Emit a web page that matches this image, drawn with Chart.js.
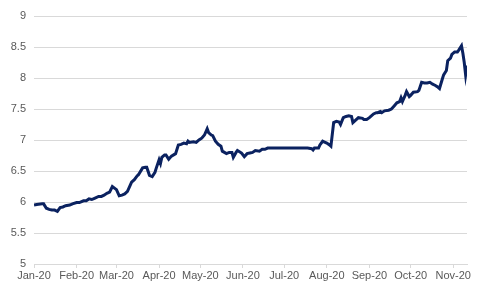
<!DOCTYPE html>
<html>
<head>
<meta charset="utf-8">
<script src="https://cdn.jsdelivr.net/npm/chart.js@4/dist/chart.umd.min.js"></script>
<style>
  html, body { margin: 0; padding: 0; background: #fff; }
  #wrap { width: 481px; height: 289px; }
</style>
</head>
<body>
<div id="wrap"><canvas id="canvas"></canvas></div>
<script>
// days counted from 1 Jan 2020
var dayNums = [0,2,6,7,9,11,13,15,17,19,21,23,26,28,31,33,36,38,40,42,44,47,49,51,53,55,57,60,62,64,66,68,71,73,75,76,79,81,82,84,86,88,89,91,92,93,95,96,98,100,103,105,107,109,111,112,113,116,118,120,122,124,126,127,129,130,132,134,136,137,140,142,144,145,147,148,151,153,155,157,159,161,164,166,168,170,173,176,179,182,185,188,191,194,196,199,202,203,204,207,208,210,211,213,215,216,218,220,222,223,225,227,229,231,232,234,236,239,240,242,244,247,249,250,252,253,255,258,260,262,264,266,267,268,270,271,273,274,276,279,280,282,284,286,288,290,292,294,295,297,298,300,301,303,304,306,308,309,311,312,313,314,315];
var rates = [5.95,5.96,5.97,5.97,5.9,5.88,5.87,5.87,5.85,5.91,5.92,5.94,5.95,5.97,5.99,5.99,6.02,6.02,6.05,6.04,6.06,6.09,6.09,6.11,6.14,6.16,6.25,6.2,6.1,6.11,6.13,6.17,6.32,6.36,6.42,6.44,6.55,6.56,6.56,6.43,6.41,6.48,6.55,6.68,6.62,6.72,6.76,6.76,6.69,6.74,6.78,6.92,6.93,6.95,6.94,6.98,6.96,6.97,6.96,7.0,7.03,7.08,7.18,7.12,7.08,7.07,6.98,6.93,6.9,6.82,6.78,6.8,6.8,6.72,6.8,6.83,6.79,6.73,6.78,6.79,6.8,6.83,6.82,6.85,6.85,6.87,6.87,6.87,6.87,6.87,6.87,6.87,6.87,6.87,6.87,6.87,6.86,6.84,6.87,6.87,6.92,6.98,6.97,6.95,6.92,6.9,7.28,7.3,7.29,7.25,7.36,7.38,7.39,7.38,7.28,7.32,7.36,7.35,7.33,7.33,7.36,7.42,7.44,7.44,7.46,7.44,7.47,7.48,7.5,7.55,7.6,7.62,7.68,7.62,7.72,7.78,7.7,7.72,7.77,7.78,7.8,7.93,7.92,7.92,7.93,7.9,7.88,7.85,7.83,7.98,8.05,8.12,8.28,8.32,8.38,8.42,8.42,8.45,8.52,8.4,8.25,8.05,8.2,8.24];
var monthDays = [0,31,60,91,121,152,182,213,244,274,305];
var monthLabels = ['Jan-20','Feb-20','Mar-20','Apr-20','May-20','Jun-20','Jul-20','Aug-20','Sep-20','Oct-20','Nov-20'];

var points = dayNums.map(function(d, i){ return {x: d, y: rates[i]}; });

var ctx = document.getElementById('canvas').getContext('2d');
var chart = new Chart(ctx, {
  type: 'line',
  data: {
    datasets: [{
      data: points,
      borderColor: '#0b2260',
      borderWidth: 3,
      pointRadius: 0,
      tension: 0,
      fill: false
    }]
  },
  options: {
    responsive: true,
    maintainAspectRatio: false,
    animation: false,
    layout: { padding: { left: 0, right: 14, top: 16, bottom: 0 } },
    plugins: { legend: { display: false }, tooltip: { enabled: false } },
    scales: {
      x: {
        type: 'linear',
        min: 0,
        max: 315,
        afterBuildTicks: function(scale){
          scale.ticks = monthDays.map(function(v){ return {value: v}; });
        },
        afterFit: function(scale){ scale.height = 25; },
        ticks: {
          autoSkip: false,
          maxRotation: 0,
          padding: 1,
          color: '#595959',
          font: { family: 'Liberation Sans', size: 11 },
          callback: function(value){
            var i = monthDays.indexOf(value);
            return i >= 0 ? monthLabels[i] : '';
          }
        },
        grid: { drawOnChartArea: false, drawTicks: true, tickLength: 4, color: '#d9d9d9' },
        border: { display: true, color: '#d9d9d9', width: 1 }
      },
      y: {
        min: 5,
        max: 9,
        afterFit: function(scale){ scale.width = 34; },
        ticks: {
          stepSize: 0.5,
          padding: 8,
          color: '#595959',
          font: { family: 'Liberation Sans', size: 11 },
          callback: function(value){ return String(Number(value)); }
        },
        grid: { color: '#d9d9d9', drawTicks: false, lineWidth: 1 },
        border: { display: false }
      }
    }
  }
});
</script>
</body>
</html>
